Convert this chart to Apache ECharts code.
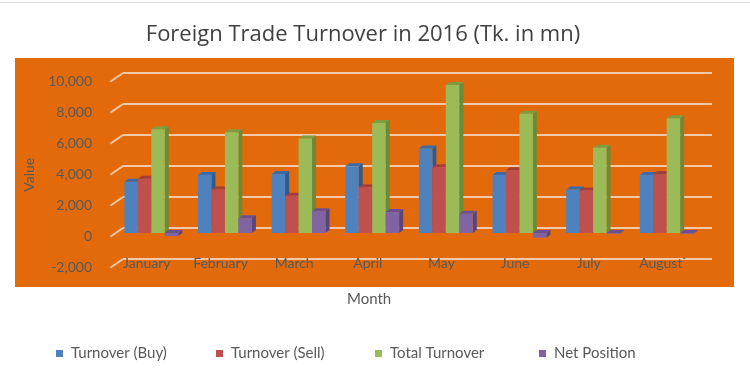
<!DOCTYPE html>
<html><head><meta charset="utf-8">
<script src="https://cdn.jsdelivr.net/npm/echarts@6/dist/echarts.min.js"></script>
<style>html,body{margin:0;padding:0;background:#fff}#c{width:750px;height:390px}</style>
</head><body><div id="c"></div>
<script>
const categories = ['January','February','March','April','May','June','July','August*'];
const turnoverBuy  = [3300, 3750, 3800, 4300, 5450, 3750, 2800, 3750];
const turnoverSell = [3500, 2800, 2400, 2950, 4250, 4050, 2750, 3800];
const totalTurnover= [6700, 6500, 6100, 7100, 9550, 7700, 5500, 7400];
const netPosition  = [-200, 950, 1400, 1350, 1250, -300, -50, -50];
const yTicks = [-2000, 0, 2000, 4000, 6000, 8000, 10000];

const seriesDefs = [
  {name:'Turnover (Buy)', data:turnoverBuy, front:'#4F81BD', side:'#2F5A8E', top:'#3B6BA6'},
  {name:'Turnover (Sell)', data:turnoverSell, front:'#C0504D', side:'#8C3331', top:'#A33E3B'},
  {name:'Total Turnover', data:totalTurnover, front:'#9BBB59', side:'#6E8A37', top:'#7E9D43'},
  {name:'Net Position', data:netPosition, front:'#8064A2', side:'#5A4478', top:'#6A5090'}
];
const gridColor = '#F2C8A6';
const DX = 4, DY = -3, SHIFTX = -8.5, SHIFTY = 5;

function barRenderer(s, def) {
  return function (params, api) {
    const i = api.value(0), v = api.value(1);
    const pv = api.coord([i, v]);
    const p0 = api.coord([i, 0]);
    const band = api.size([1, 0])[0];
    const bw = band * 0.183;
    const cx = p0[0] + SHIFTX;
    const x0 = cx - 2 * bw + s * bw;
    const yTop = Math.min(pv[1], p0[1]) + SHIFTY;
    const yBot = Math.max(pv[1], p0[1]) + SHIFTY;
    const h = Math.max(yBot - yTop, 0.5);
    return {
      type: 'group',
      children: [
        {type:'polygon', shape:{points:[[x0+bw,yTop],[x0+bw+DX,yTop+DY],[x0+bw+DX,yTop+h+DY],[x0+bw,yTop+h]]}, style:{fill:def.side}},
        {type:'polygon', shape:{points:[[x0,yTop],[x0+DX,yTop+DY],[x0+bw+DX,yTop+DY],[x0+bw,yTop]]}, style:{fill:def.top}},
        {type:'rect', shape:{x:x0, y:yTop, width:bw, height:h}, style:{fill:def.front}}
      ]
    };
  };
}

const series = [];
series.push({
  type:'custom', xAxisIndex:0, yAxisIndex:0, silent:true, z:1,
  data: yTicks.map(v => [0, v]),
  renderItem: function (params, api) {
    const p = api.coord([0, api.value(1)]);
    const x = params.coordSys.x;
    return {type:'line', shape:{x1:x-12.7, y1:p[1]+8.7, x2:x, y2:p[1]}, style:{stroke:gridColor, lineWidth:2}};
  }
});
seriesDefs.forEach((def, s) => {
  series.push({
    type:'custom', name:def.name, xAxisIndex:0, yAxisIndex:0, z:5,
    itemStyle:{color:def.front},
    data: def.data.map((v, i) => [i, v]),
    renderItem: barRenderer(s, def)
  });
});

const legends = seriesDefs.map((def, k) => ({
  data:[def.name], left:[51, 211, 370, 534][k], top:341, icon:'rect', itemWidth:7, itemHeight:7,
  textStyle:{fontFamily:'Lato', fontSize:15, color:'#595959', padding:[0,0,0,3]}
}));

const option = {
  animation:false,
  backgroundColor:'#ffffff',
  title:{text:'Foreign Trade Turnover in 2016 (Tk. in mn)', left:358, textAlign:'center', top:19,
    textStyle:{fontFamily:'Open Sans', fontWeight:'normal', fontSize:22, color:'#404040'}},
  legend: legends,
  graphic:{elements:[
    {type:'rect', z:-10, shape:{x:15, y:58, width:719, height:229}, style:{fill:'#E36A0B'}},
    {type:'line', z:-10, shape:{x1:0, y1:2.5, x2:750, y2:2.5}, style:{stroke:'#D9D9D9', lineWidth:1}},
    {type:'text', left:347, top:292, style:{text:'Month', font:'15px Lato', fill:'#595959'}}
  ]},
  grid:[
    {left:123, right:38, top:73, bottom:131},
    {left:110, right:50.7, top:81.7, bottom:122.3}
  ],
  xAxis:[
    {type:'category', gridIndex:0, data:categories, axisLine:{show:false}, axisTick:{show:false}, axisLabel:{show:false}, splitLine:{show:false}},
    {type:'category', gridIndex:1, data:categories, axisLine:{show:false}, axisTick:{show:false}, splitLine:{show:false},
      axisLabel:{interval:0, margin:-4.7, verticalAlign:'middle', fontFamily:'Lato', fontSize:14, color:'#595959',
        formatter: v => v.endsWith('*') ? v.slice(0,-1) + '{s|*}' : v,
        rich:{s:{fontSize:8, verticalAlign:'top', color:'#595959', padding:[0,0,6,0]}}}}
  ],
  yAxis:[
    {type:'value', gridIndex:0, min:-2000, max:10000, interval:2000, axisLine:{show:false}, axisTick:{show:false}, axisLabel:{show:false},
      splitLine:{show:true, lineStyle:{color:gridColor, width:2}}},
    {type:'value', gridIndex:1, min:-2000, max:10000, interval:2000, axisLine:{show:false}, axisTick:{show:false}, splitLine:{show:false},
      axisLabel:{margin:18, fontFamily:'Lato', fontSize:14, color:'#595959',
        formatter: v => v.toLocaleString('en-US')},
      name:'Value', nameLocation:'middle', nameGap:74, nameRotate:90,
      nameTextStyle:{fontFamily:'Lato', fontSize:14, color:'#595959'}}
  ],
  series: series
};
const chart = echarts.init(document.getElementById('c'), null, {renderer:'canvas'});
chart.setOption(option);
</script></body></html>
